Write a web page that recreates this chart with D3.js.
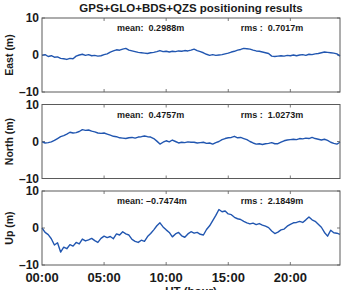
<!DOCTYPE html>
<html>
<head>
<meta charset="utf-8">
<script src="https://cdn.jsdelivr.net/npm/d3@7"></script>
<style>
  body { margin: 0; background: #fff; }
  svg { display: block; font-family: "Liberation Sans", Arial, sans-serif; }
</style>
</head>
<body>
<svg id="chart" width="346" height="290"></svg>
<script>
// --- DATA ---
const hours = [
  0,0.25,0.5,0.75,1,1.25,1.5,1.75,2,2.25,2.5,2.75,3,3.25,3.5,3.75,4,4.25,4.5,4.75,
  5,5.25,5.5,5.75,6,6.25,6.5,6.75,7,7.25,7.5,7.75,8,8.25,8.5,8.75,9,9.25,9.5,9.75,
  10,10.25,10.5,10.75,11,11.25,11.5,11.75,12,12.25,12.5,12.75,13,13.25,13.5,13.75,14,14.25,14.5,14.75,
  15,15.25,15.5,15.75,16,16.25,16.5,16.75,17,17.25,17.5,17.75,18,18.25,18.5,18.75,19,19.25,19.5,19.75,
  20,20.25,20.5,20.75,21,21.25,21.5,21.75,22,22.25,22.5,22.75,23,23.25,23.5,23.75,24
];

const eastValues = [
  -0.1,0.1,-0.4,-0.2,-0.6,-0.5,-0.9,-1.0,-1.2,-0.9,-1.0,-0.3,0.0,0.2,-0.1,0.1,-0.2,-0.1,-0.3,-0.2,
  0.1,0.3,0.8,1.1,1.4,1.3,1.6,1.8,1.3,1.1,0.9,0.7,0.6,0.5,0.4,0.6,0.7,0.9,1.2,0.9,
  1.0,0.8,1.0,0.9,1.1,1.0,1.2,1.1,1.3,1.6,1.2,0.9,0.6,0.2,-0.1,0.1,-0.1,0.0,0.1,0.3,
  0.5,0.8,1.0,1.3,1.5,1.8,1.7,1.6,1.3,1.1,1.0,0.8,0.6,0.4,-0.3,-0.4,-0.3,-0.2,-0.3,-0.1,
  -0.2,0.0,-0.2,0.0,0.1,-0.1,0.2,0.1,0.3,0.4,0.6,0.8,0.7,0.6,0.5,0.3,-0.3
];

const northValues = [
  -0.1,-0.4,-0.3,-0.1,0.3,0.8,1.3,1.6,2.0,2.5,2.3,2.4,2.7,3.2,3.0,3.1,2.8,2.6,2.3,2.2,
  2.3,2.0,1.7,1.4,1.3,1.0,0.9,0.8,1.0,1.1,0.9,1.2,1.3,1.5,1.3,1.2,0.8,0.1,-0.7,-0.2,
  0.2,-0.1,0.4,0.0,-0.4,-0.2,-0.3,-0.1,-0.2,-0.2,-0.4,-0.3,-0.2,-0.5,-0.4,-0.7,-0.3,0.0,0.5,0.8,
  1.0,1.1,1.4,1.0,1.1,0.8,0.5,0.0,-0.4,-0.7,-0.6,-0.8,-0.6,-0.5,-0.3,-0.6,-0.6,-0.2,0.2,0.4,
  0.5,0.6,0.5,0.8,0.7,0.9,0.8,1.1,0.8,0.6,0.4,0.6,0.3,-0.2,-0.5,-0.7,-0.2
];

const upValues = [
  0.0,-1.2,-1.8,-2.9,-4.6,-4.0,-6.5,-5.2,-5.6,-4.5,-4.9,-3.9,-4.3,-3.0,-3.5,-3.2,-2.8,-3.4,-3.9,-2.8,
  -2.2,-2.6,-2.3,-2.9,-1.6,-1.9,-1.0,-1.6,-1.9,-3.1,-3.6,-3.9,-3.3,-3.6,-2.3,-1.5,-0.5,0.6,1.4,0.3,
  -0.5,-1.2,-2.4,-1.6,-1.2,-2.1,-2.5,-1.6,-1.0,-1.4,-1.2,-1.7,-1.9,-0.4,0.6,2.0,3.4,5.0,4.4,4.6,
  3.8,3.6,2.9,2.5,2.3,1.8,1.4,1.1,1.3,0.9,1.2,0.8,0.5,0.1,-0.8,-1.5,-1.1,-0.5,-0.3,0.5,
  1.0,1.4,1.5,1.8,1.5,2.2,3.0,2.2,1.8,1.0,0.2,-1.2,-2.2,-0.6,-1.3,-1.4,-1.7
];

const panelLabels = ["East (m)", "North (m)", "Up (m)"];
const meanTexts = ["mean:  0.2988m", "mean:  0.4757m", "mean: \u20130.7474m"];
const rmsTexts = ["rms :  0.7017m", "rms :  1.0273m", "rms :  2.1849m"];
const xTicks = [0, 5, 10, 15, 20];
const xTickLabels = ["00:00", "05:00", "10:00", "15:00", "20:00"];
const yTicks = [-10, 0, 10];

// --- SETUP ---
const svg = d3.select("#chart");
const left = 42, right = 340;
const panelTop = 18, panelH = 74, panelGap = 12.5;
const lineColor = "#2156b0";
const boxColor = "#5a5a5a";
const textColor = "#1a1a1a";

const x = d3.scaleLinear().domain([0, 24]).range([left, right]);

svg.append("text")
  .attr("x", 191).attr("y", 12)
  .attr("text-anchor", "middle")
  .attr("font-size", "11.5px").attr("font-weight", "bold")
  .attr("fill", textColor)
  .text("GPS+GLO+BDS+QZS positioning results");

const series = [eastValues, northValues, upValues];

series.forEach((vals, p) => {
  const top = panelTop + p * (panelH + panelGap);
  const y = d3.scaleLinear().domain([-10, 10]).range([top + panelH, top]);
  const g = svg.append("g");

  // inward ticks
  xTicks.slice(1).forEach(t => {
    g.append("line").attr("x1", x(t)).attr("x2", x(t)).attr("y1", top).attr("y2", top + 3)
      .attr("stroke", boxColor).attr("stroke-width", 0.8);
    g.append("line").attr("x1", x(t)).attr("x2", x(t)).attr("y1", top + panelH).attr("y2", top + panelH - 3)
      .attr("stroke", boxColor).attr("stroke-width", 0.8);
  });
  yTicks.forEach(t => {
    g.append("line").attr("x1", left).attr("x2", left + 3).attr("y1", y(t)).attr("y2", y(t))
      .attr("stroke", boxColor).attr("stroke-width", 0.8);
    g.append("line").attr("x1", right).attr("x2", right - 3).attr("y1", y(t)).attr("y2", y(t))
      .attr("stroke", boxColor).attr("stroke-width", 0.8);
    g.append("text")
      .attr("x", left - 3).attr("y", y(t)).attr("dy", "0.36em")
      .attr("text-anchor", "end")
      .attr("font-size", "12px").attr("font-weight", "bold")
      .attr("fill", textColor)
      .text(t < 0 ? "\u2013" + Math.abs(t) : t);
  });

  // the trace
  const line = d3.line().x((d, i) => x(hours[i])).y(d => y(d));
  g.append("path")
    .datum(vals)
    .attr("d", line)
    .attr("fill", "none")
    .attr("stroke", lineColor)
    .attr("stroke-width", 1.4)
    .attr("stroke-linejoin", "round");

  // box
  g.append("rect")
    .attr("x", left).attr("y", top).attr("width", right - left).attr("height", panelH)
    .attr("fill", "none").attr("stroke", boxColor).attr("stroke-width", 1);

  // annotations
  g.append("text")
    .attr("x", x(6.05)).attr("y", top + 13)
    .attr("font-size", "9px").attr("font-weight", "bold").attr("fill", textColor)
    .attr("xml:space", "preserve")
    .style("white-space", "pre")
    .text(meanTexts[p]);
  g.append("text")
    .attr("x", x(16)).attr("y", top + 13)
    .attr("font-size", "9px").attr("font-weight", "bold").attr("fill", textColor)
    .style("white-space", "pre")
    .text(rmsTexts[p]);

  // y label
  g.append("text")
    .attr("transform", `translate(13,${top + panelH / 2}) rotate(-90)`)
    .attr("text-anchor", "middle")
    .attr("font-size", "10.5px").attr("font-weight", "bold").attr("fill", textColor)
    .text(panelLabels[p]);

  if (p === 2) {
    xTicks.forEach((t, i) => {
      g.append("text")
        .attr("x", x(t)).attr("y", top + panelH + 17)
        .attr("text-anchor", "middle")
        .attr("font-size", "13px").attr("font-weight", "bold").attr("fill", textColor)
        .text(xTickLabels[i]);
    });
    g.append("text")
      .attr("x", x(12)).attr("y", top + panelH + 30)
      .attr("text-anchor", "middle")
      .attr("font-size", "11.5px").attr("font-weight", "bold").attr("fill", textColor)
      .text("UT (hour)");
  }
});
</script>
</body>
</html>
